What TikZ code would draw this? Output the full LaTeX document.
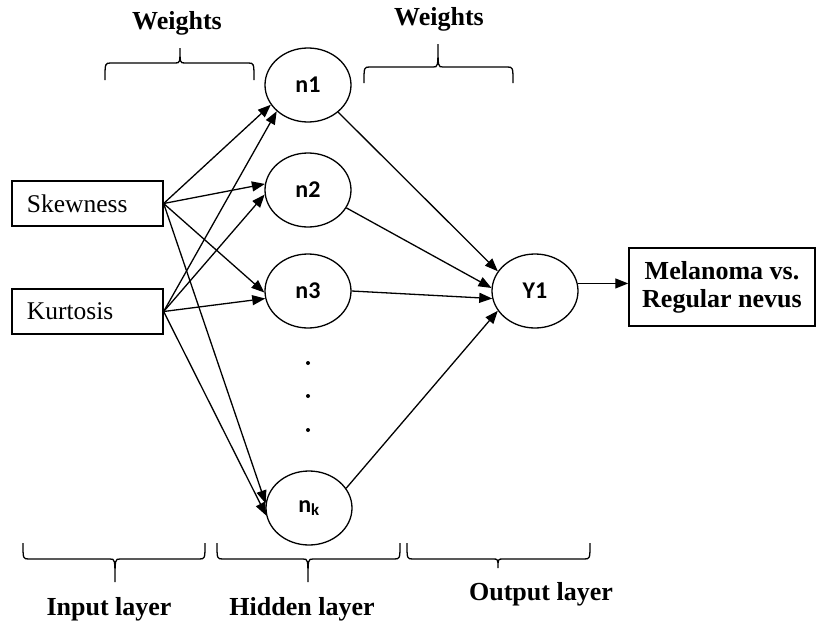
\documentclass[tikz,border=0pt]{standalone}
\usepackage{fontspec}
\setmainfont{Liberation Serif}
\newfontfamily\labfont{Carlito}
\usetikzlibrary{arrows.meta,shapes.geometric}
\newcommand\wbrace[6]{% x1, x2, xc, yend, ymid, ytip
  \draw[brc] (#1,#4) .. controls (#1,#5) .. ({#1+6},#5) -- ({#3-5},#5)
    .. controls (#3,#5) .. (#3,#6) .. controls (#3,#5) .. ({#3+5},#5)
    -- ({#2-6},#5) .. controls (#2,#5) .. (#2,#4);}
\begin{document}
\begin{tikzpicture}[x=1pt,y=-1pt,
  neur/.style={ellipse,draw,line width=1.3pt,minimum width=86pt,minimum height=74pt,inner sep=0pt,font=\labfont\bfseries\fontsize{24}{27}\selectfont},
  inbox/.style={draw,line width=1.3pt,minimum height=45pt,text width=121pt,inner xsep=15pt,align=left,font=\fontsize{25.5}{28}\selectfont},
  outbox/.style={draw,line width=1.5pt,minimum width=186pt,minimum height=78pt,align=center,inner sep=0pt,font=\bfseries\fontsize{26}{28}\selectfont},
  arr/.style={-{Triangle[length=13pt,width=10pt]},line width=1.3pt},
  brc/.style={line width=1.3pt},
  ttl/.style={font=\bfseries\fontsize{26}{28}\selectfont,anchor=base}]
\useasboundingbox (0,0) rectangle (817,621);
% input boxes
\node[inbox] (sk) at (87.5,203.5) {Skewness};
\node[inbox] (ku) at (87.5,311.5) {Kurtosis};
% hidden neurons
\node[neur] (n1) at (308,85) {n1};
\node[neur] (n2) at (308,190) {n2};
\node[neur] (n3) at (308,291) {n3};
\node[neur] (nk) at (309,508) {n\textsubscript{k}};
% output neuron and box
\node[neur] (y1) at (535,291) {Y1};
\node[outbox] (out) at (722,287) {Melanoma vs.\\Regular nevus};
% dots
\fill (308,363) circle (2pt);
\fill (308,396) circle (2pt);
\fill (308,430) circle (2pt);
% input -> hidden
\draw[arr] (sk.east) -- (n1.208);
\draw[arr] (ku.east) -- (n1.220);
\draw[arr] (sk.east) -- (n2.172);
\draw[arr] (ku.east) -- (n2.186);
\draw[arr] (sk.east) -- (n3.182);
\draw[arr] (ku.east) -- (n3.190);
\draw[arr] (sk.east) -- (nk.174);
\draw[arr] (ku.east) -- (nk.190);
% hidden -> output
\draw[arr] (n1.318) -- (y1.152);
\draw[arr] (n2.335) -- (y1.176);
\draw[arr] (n3.east) -- (y1.190);
\draw[arr] (nk.28) -- (y1.208);
\draw[arr] (y1.10) -- (y1.10 -| out.west);
% braces
\wbrace{105}{254}{180}{80}{63}{48}
\wbrace{364}{513}{438}{83}{67}{44}
\wbrace{23}{205}{115}{543}{559}{582}
\wbrace{217}{400}{308}{543}{559}{582}
\wbrace{407}{590}{498}{543}{559}{568}
% titles
\node[ttl] (w1) at (177,30) {Weights};
\node[ttl] (w2) at (439,25) {Weights};
\node[ttl] (il) at (109,615) {Input layer};
\node[ttl] (hl) at (302,615) {Hidden layer};
\node[ttl] (ol) at (541,600) {Output layer};
\end{tikzpicture}
\end{document}
